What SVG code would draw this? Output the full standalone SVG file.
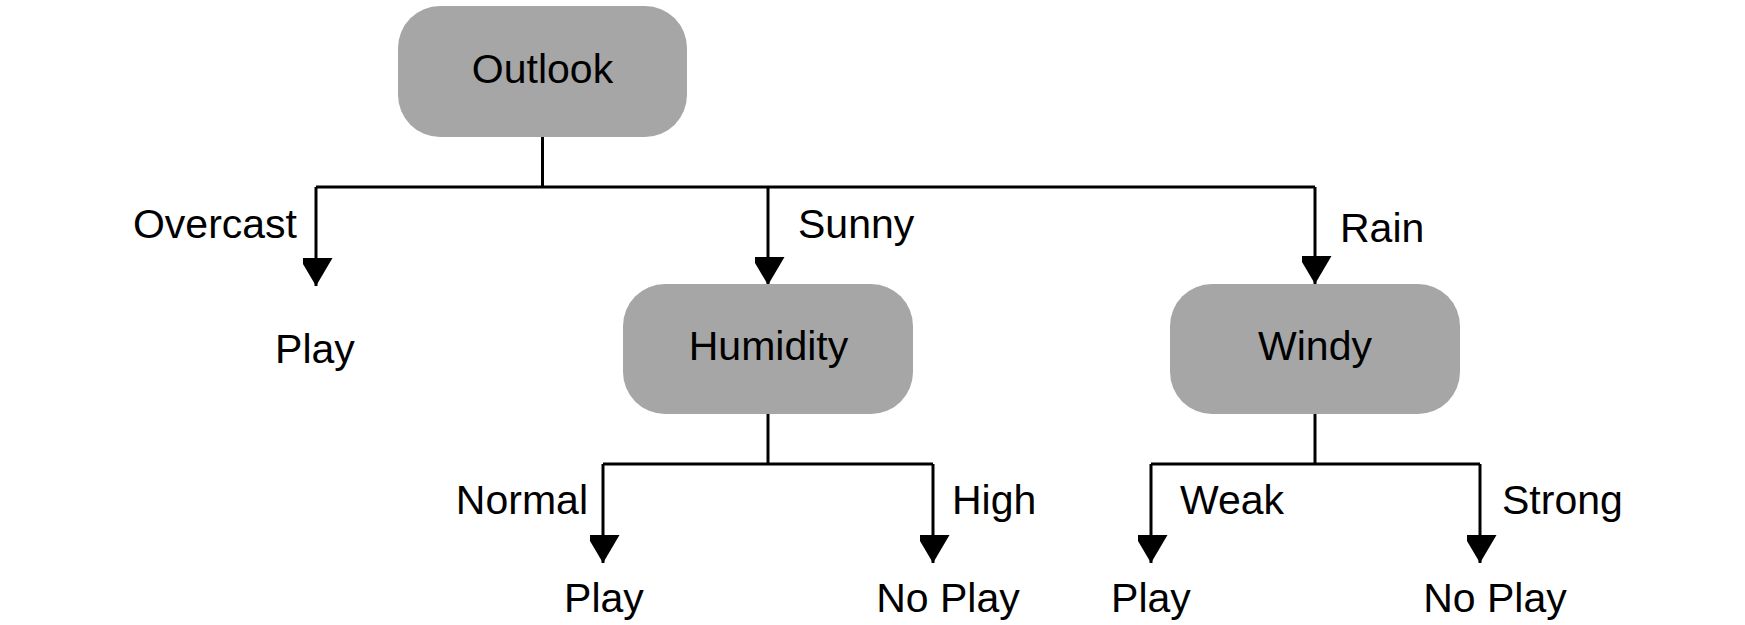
<svg xmlns="http://www.w3.org/2000/svg" width="1745" height="625" viewBox="0 0 1745 625">
<defs>
<style>
.box{fill:#a6a6a6;stroke:none}
.t{font-family:"Liberation Sans",Arial,sans-serif;font-size:41px;fill:#000}
.m{text-anchor:middle}
.e{text-anchor:end}
.ln{fill:none;stroke:#000;stroke-width:3}
</style>
<marker id="arr" markerUnits="userSpaceOnUse" markerWidth="34" markerHeight="30" refX="28" refY="16.5" orient="auto">
<path d="M0,0 L28,16.5 L0,33 Z" fill="#000"/>
</marker>
</defs>
<rect width="1745" height="625" fill="#fff"/>
<g id="connectors">
<path class="ln" d="M542.5,136 V187"/>
<path class="ln" d="M316,187 H1315"/>
<path class="ln" d="M316,187 V286" marker-end="url(#arr)"/>
<path class="ln" d="M768,187 V285" marker-end="url(#arr)"/>
<path class="ln" d="M1315,187 V284" marker-end="url(#arr)"/>
<path class="ln" d="M768,414 V464"/>
<path class="ln" d="M603,464 H933"/>
<path class="ln" d="M603,464 V563" marker-end="url(#arr)"/>
<path class="ln" d="M933,464 V563" marker-end="url(#arr)"/>
<path class="ln" d="M1315,414 V464"/>
<path class="ln" d="M1151,464 H1480"/>
<path class="ln" d="M1151,464 V563" marker-end="url(#arr)"/>
<path class="ln" d="M1480,464 V563" marker-end="url(#arr)"/>
<text class="t e" x="297" y="238">Overcast</text>
<text class="t" x="798" y="238">Sunny</text>
<text class="t" x="1340" y="242">Rain</text>
<text class="t e" x="588" y="514">Normal</text>
<text class="t" x="952" y="514">High</text>
<text class="t" x="1180" y="514">Weak</text>
<text class="t" x="1502" y="514">Strong</text>
</g>
<g id="outlook">
<rect class="box" x="398" y="6" width="289" height="131" rx="42" ry="42"/>
<text class="t m" x="542.5" y="83">Outlook</text>
</g>
<g id="play1">
<text class="t m" x="315" y="363">Play</text>
</g>
<g id="humidity">
<rect class="box" x="623" y="284" width="290" height="130" rx="42" ry="42"/>
<text class="t m" x="768.5" y="360">Humidity</text>
</g>
<g id="windy">
<rect class="box" x="1170" y="284" width="290" height="130" rx="42" ry="42"/>
<text class="t m" x="1315" y="360">Windy</text>
</g>
<g id="play2">
<text class="t m" x="604" y="612">Play</text>
</g>
<g id="noplay1">
<text class="t m" x="948" y="612">No Play</text>
</g>
<g id="play3">
<text class="t m" x="1151" y="612">Play</text>
</g>
<g id="noplay2">
<text class="t m" x="1495" y="612">No Play</text>
</g>
</svg>
